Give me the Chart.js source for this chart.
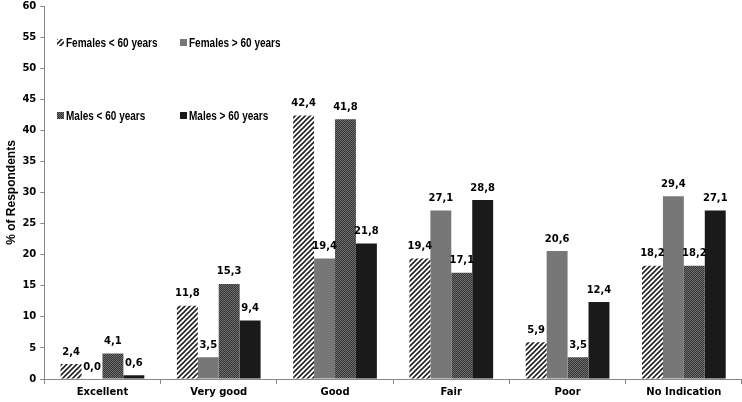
<!DOCTYPE html>
<html>
<head>
<meta charset="utf-8">
<script src="https://cdn.jsdelivr.net/npm/chart.js@4"></script>
<style>
  html, body { margin: 0; padding: 0; background: #fff; overflow: hidden; }
  #wrap { width: 742px; height: 406px; position: relative; margin-top: -4px; }
</style>
</head>
<body>
<div id="wrap"><canvas id="surveyChart"></canvas></div>
<script>
// categories and series
var categories = ["Excellent", "Very good", "Good", "Fair", "Poor", "No Indication"];
var femalesUnder60 = [2.4, 11.8, 42.4, 19.4, 5.9, 18.2];
var femalesOver60 = [0.0, 3.5, 19.4, 27.1, 20.6, 29.4];
var malesUnder60 = [4.1, 15.3, 41.8, 17.1, 3.5, 18.2];
var malesOver60 = [0.6, 9.4, 21.8, 28.8, 12.4, 27.1];
var seriesNames = ["Females < 60 years", "Females > 60 years", "Males < 60 years", "Males > 60 years"];

var FONT = "'DejaVu Sans', Verdana, sans-serif";
var SANS = "'Liberation Sans', Arial, sans-serif";

// fill patterns
function hatchPattern() {
    var c = document.createElement("canvas");
    c.width = 5; c.height = 5;
    var g = c.getContext("2d");
    g.fillStyle = "#fff";
    g.fillRect(0, 0, 5, 5);
    g.strokeStyle = "#222";
    g.lineWidth = 1.6;
    g.beginPath();
    g.moveTo(-1, 6); g.lineTo(6, -1);
    g.moveTo(-1, 1); g.lineTo(1, -1);
    g.moveTo(4, 6); g.lineTo(6, 4);
    g.stroke();
    return g.createPattern(c, "repeat");
}

function checkerPattern() {
    var c = document.createElement("canvas");
    c.width = 2; c.height = 2;
    var g = c.getContext("2d");
    g.fillStyle = "#353535";
    g.fillRect(0, 0, 2, 2);
    g.fillStyle = "#6e6e6e";
    g.fillRect(0, 0, 1, 1);
    g.fillRect(1, 1, 1, 1);
    return g.createPattern(c, "repeat");
}

var fills = [hatchPattern(), "#777777", checkerPattern(), "#1a1a1a"];

// value labels over the bars
var valueLabels = {
    id: "valueLabels",
    afterDatasetsDraw: function (chart) {
        var ctx = chart.ctx;
        ctx.save();
        ctx.font = "bold 10px " + FONT;
        ctx.fillStyle = "#000";
        ctx.textAlign = "center";
        ctx.textBaseline = "bottom";
        chart.data.datasets.forEach(function (ds, i) {
            chart.getDatasetMeta(i).data.forEach(function (bar, j) {
                var txt = ds.data[j].toFixed(1).replace(".", ",");
                ctx.fillText(txt, bar.x, bar.y - 7);
            });
        });
        ctx.restore();
    }
};

// legend laid out inside the plot, 2 x 2
var insideLegend = {
    id: "insideLegend",
    afterDraw: function (chart) {
        var ctx = chart.ctx;
        var pos = [[57, 47], [180, 47], [57, 120], [180, 120]];
        ctx.save();
        ctx.textBaseline = "middle";
        ctx.textAlign = "left";
        seriesNames.forEach(function (name, i) {
            var x = pos[i][0], y = pos[i][1];
            ctx.fillStyle = fills[i];
            ctx.fillRect(x, y - 4, 7, 7);
            ctx.save();
            ctx.translate(x + 9, y);
            ctx.scale(0.77, 1);
            ctx.font = "bold 13px " + SANS;
            ctx.fillStyle = "#000";
            ctx.fillText(name, 0, 0);
            ctx.restore();
        });
        ctx.restore();
    }
};

new Chart("surveyChart", {
    type: "bar",
    data: {
        labels: categories,
        datasets: [
            { label: seriesNames[0], data: femalesUnder60, backgroundColor: fills[0] },
            { label: seriesNames[1], data: femalesOver60, backgroundColor: fills[1] },
            { label: seriesNames[2], data: malesUnder60, backgroundColor: fills[2] },
            { label: seriesNames[3], data: malesOver60, backgroundColor: fills[3] }
        ]
    },
    plugins: [valueLabels, insideLegend],
    options: {
        responsive: true,
        maintainAspectRatio: false,
        animation: false,
        datasets: {
            bar: { categoryPercentage: 0.72, barPercentage: 1.0 }
        },
        layout: { padding: { top: 0, right: 0, left: 4, bottom: 2 } },
        plugins: {
            legend: { display: false },
            tooltip: { enabled: false }
        },
        scales: {
            x: {
                grid: { display: true, drawOnChartArea: false, offset: true, tickLength: 5, color: "#888" },
                border: { color: "#888" },
                ticks: { color: "#000", font: { family: FONT, size: 10, weight: "bold" }, padding: 2 }
            },
            y: {
                min: 0,
                max: 60,
                ticks: { stepSize: 5, color: "#000", font: { family: FONT, size: 10, weight: "bold" }, padding: 4 },
                grid: { display: true, drawOnChartArea: false, tickLength: 4, color: "#888" },
                border: { color: "#888" },
                title: {
                    display: true,
                    text: "% of Respondents",
                    color: "#000",
                    font: { family: SANS, size: 12, weight: "bold" },
                    padding: { top: 0, bottom: 0 }
                }
            }
        }
    }
});
</script>
</body>
</html>
